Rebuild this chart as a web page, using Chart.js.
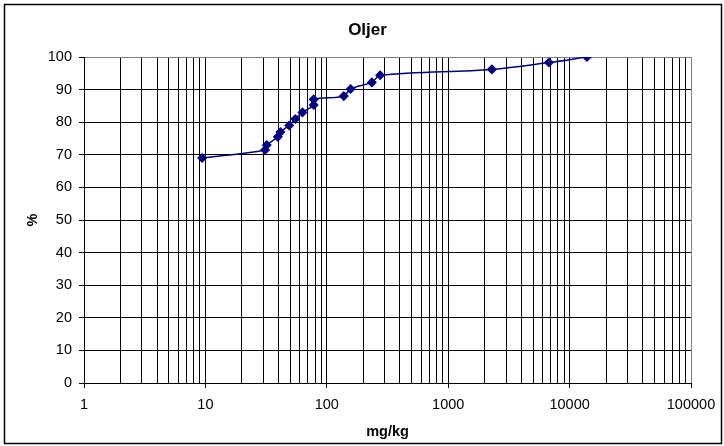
<!DOCTYPE html>
<html>
<head>
<meta charset="utf-8">
<script src="https://cdn.jsdelivr.net/npm/chart.js@4.4.1/dist/chart.umd.min.js"></script>
<style>
  html, body { margin: 0; padding: 0; background: #fff; }
  #wrap { position: relative; width: 724px; height: 446px; }
</style>
</head>
<body>
<div id="wrap"><canvas id="chart" width="724" height="446"></canvas></div>
<script>
// --- Data ---
const concentrations = [9.4, 31, 32, 39.5, 41.5, 49, 55, 63, 78, 78, 138, 157, 235, 275, 2290, 6750, 13900]; // mg/kg
const percents = [69, 71.5, 73, 75.5, 77, 79, 81, 83, 85.3, 87, 88, 90.2, 92.2, 94.4, 96.2, 98.3, 100];

// x grid: 1..9 per decade, labelled only at powers of ten
const xTickLabels = [1, 10, 100, 1000, 10000, 100000];
const xMultipliers = [1, 2, 3, 4, 5, 6, 7, 8, 9];
const yTickValues = [0, 10, 20, 30, 40, 50, 60, 70, 80, 90, 100];

const FONT = "'Liberation Sans', Arial, sans-serif";
const LINE_COLOR = '#000080';

const xGridValues = [];
xTickLabels.slice(0, -1).forEach(dec => xMultipliers.forEach(m => xGridValues.push(dec * m)));
xGridValues.push(xTickLabels[xTickLabels.length - 1]);

const isDecade = v => xTickLabels.includes(v);

// outer frame of the chart object
const framePlugin = {
  id: 'frame',
  afterDraw(chart) {
    const ctx = chart.ctx;
    ctx.save();
    ctx.strokeStyle = '#000';
    ctx.lineWidth = 1.5;
    ctx.strokeRect(4.5, 4.5, 717, 439);
    ctx.restore();
  }
};

new Chart(document.getElementById('chart'), {
  type: 'scatter',
  data: {
    datasets: [{
      label: 'Oljer',
      data: concentrations.map((c, i) => ({ x: c, y: percents[i] })),
      showLine: true,
      borderColor: LINE_COLOR,
      backgroundColor: LINE_COLOR,
      borderWidth: 1.5,
      tension: 0.35,
      pointStyle: 'rectRot',
      pointRadius: 4,
      pointHoverRadius: 4,
    }],
  },
  options: {
    responsive: false,
    animation: false,
    layout: { padding: { left: 11, right: 0, top: 0, bottom: 0 } },
    plugins: {
      legend: { display: false },
      tooltip: { enabled: false },
      title: {
        display: true,
        text: 'Oljer',
        color: '#000',
        font: { family: FONT, size: 17, weight: 'bold' },
        padding: { top: 20.5, bottom: 16.1 },
      },
    },
    scales: {
      x: {
        type: 'logarithmic',
        min: 1,
        max: 100000,
        afterBuildTicks: scale => {
          scale.ticks = xGridValues.map(v => ({ value: v, major: isDecade(v) }));
        },
        afterFit: scale => { scale.height = 63; },
        grid: {
          color: ctx => (ctx.tick && ctx.tick.value === 100000 ? '#808080' : '#000'),
          tickColor: ctx => (ctx.tick && isDecade(ctx.tick.value) ? '#000' : 'rgba(0,0,0,0)'),
          tickLength: 5,
          lineWidth: 1,
        },
        border: { color: '#000', width: 1 },
        ticks: {
          autoSkip: false,
          maxRotation: 0,
          padding: 8,
          color: '#000',
          font: { family: FONT, size: 14.5 },
          callback: v => (isDecade(v) ? String(v) : ''),
        },
        title: {
          display: true,
          text: 'mg/kg',
          color: '#000',
          font: { family: FONT, size: 14.5, weight: 'bold' },
          padding: { top: 0, bottom: 5 },
        },
      },
      y: {
        min: 0,
        max: 100,
        afterBuildTicks: scale => {
          scale.ticks = yTickValues.map(v => ({ value: v }));
        },
        afterFit: scale => { scale.width = 73; },
        grid: {
          color: ctx => (ctx.tick && ctx.tick.value === 100 ? '#808080' : '#000'),
          tickColor: '#000',
          tickLength: 5,
          lineWidth: 1,
        },
        border: { color: '#000', width: 1 },
        ticks: {
          padding: 7,
          color: '#000',
          font: { family: FONT, size: 14.5 },
        },
        title: {
          display: true,
          text: '%',
          color: '#000',
          font: { family: FONT, size: 14.5, weight: 'bold' },
          padding: { top: 13.3, bottom: 0 },
        },
      },
      // empty box on the right, keeps the plot area where Excel put it
      yRight: {
        position: 'right',
        display: true,
        afterFit: scale => { scale.width = 33; },
        grid: { display: false, drawOnChartArea: false },
        border: { display: false },
        ticks: { display: false },
      },
    },
  },
  plugins: [framePlugin],
});
</script>
</body>
</html>
